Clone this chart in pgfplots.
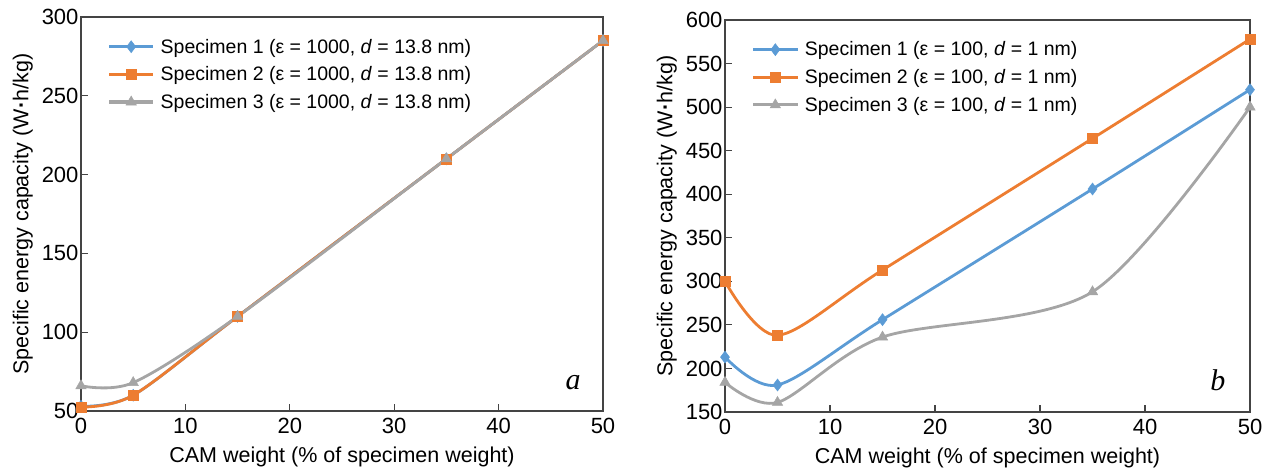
\documentclass[border=0pt]{standalone}
\usepackage{fontspec}
\setmainfont{Liberation Sans}
\newfontfamily\serifit{Liberation Serif}
\usepackage{pgfplots}
\pgfplotsset{compat=1.18}
\definecolor{cblue}{HTML}{5B9BD5}
\definecolor{corange}{HTML}{ED7D31}
\definecolor{cgray}{HTML}{A5A5A5}
\definecolor{frm}{HTML}{444444}
\pgfplotsset{myax/.style={
  scale only axis, clip=false,
  axis line style={frm, line width=1.2pt},
  tick style={frm, line width=1.2pt},
  tick align=inside, major tick length=7pt,
  xtick pos=lower, ytick pos=left,
  xmin=0, xmax=50, xtick={0,10,...,50},
  tick label style={font=\fontsize{22}{24}\selectfont},
  xticklabel style={yshift=-4pt},
  yticklabel style={xshift=1pt},
  label style={font=\fontsize{21.5}{24}\selectfont},
  xlabel style={yshift=-6pt},
  ylabel style={yshift=2pt},
  /pgf/number format/assume math mode=true,
  xlabel={CAM weight (\% of specimen weight)},
  ylabel={Specific energy capacity (W\kern0.5pt\textbf{·}\kern0.5pt h/kg)},
  legend style={draw=none, fill=none, font=\fontsize{19.5}{22}\selectfont, at={(0.045,0.955)}, anchor=north west, row sep=8pt, nodes={inner xsep=6pt}},
  legend cell align=left,
  legend image code/.code={\draw[##1, line width=3pt, mark repeat=2, mark phase=2] plot coordinates {(0pt,0pt) (22pt,0pt) (44pt,0pt)};},
}}
\pgfplotsset{
  s1/.style={cblue, line width=2.8pt, smooth, tension=0.5, mark=diamond*, mark size=6pt, mark options={solid, line width=0.5pt, fill=cblue}},
  s2/.style={corange, line width=2.8pt, smooth, tension=0.5, mark=square*, mark size=5pt, mark options={solid, line width=0.5pt, fill=corange}},
  s3/.style={cgray, line width=2.8pt, smooth, tension=0.5, mark=triangle*, mark size=6pt, mark options={solid, line width=0.5pt, fill=cgray}},
}
\begin{document}
\begin{tikzpicture}[x=1pt,y=1pt]
\path (0,0) rectangle (1269,473);
\begin{axis}[myax, at={(81pt,62pt)}, anchor=south west, width=522pt, height=394pt,
  ymin=50, ymax=300, ytick={50,100,...,300}]
\addplot[s1] coordinates {(0,53) (5,60) (15,110) (35,210) (50,285)};
\addlegendentry{Specimen 1 (ε = 1000, \textit{d} = 13.8 nm)}
\addplot[s2] coordinates {(0,52.5) (5,60) (15,110) (35,210) (50,285)};
\addlegendentry{Specimen 2 (ε = 1000, \textit{d} = 13.8 nm)}
\addplot[s3] coordinates {(0,66) (5,68) (15,110) (35,210) (50,285)};
\addlegendentry{Specimen 3 (ε = 1000, \textit{d} = 13.8 nm)}
\node[font=\serifit\itshape\fontsize{30}{32}\selectfont] at (rel axis cs:0.943,0.071) {a};
\end{axis}
\begin{axis}[myax, at={(725pt,61pt)}, anchor=south west, width=525pt, height=392pt,
  ymin=150, ymax=600, ytick={150,200,...,600}]
\addplot[s1] coordinates {(0,213) (5,181) (15,256) (35,406) (50,520)};
\addlegendentry{Specimen 1 (ε = 100, \textit{d} = 1 nm)}
\addplot[s2] coordinates {(0,300) (5,238) (15,313) (35,464) (50,578)};
\addlegendentry{Specimen 2 (ε = 100, \textit{d} = 1 nm)}
\addplot[s3] coordinates {(0,184) (5,161) (15,236) (35,288) (50,500)};
\addlegendentry{Specimen 3 (ε = 100, \textit{d} = 1 nm)}
\node[font=\serifit\itshape\fontsize{30}{32}\selectfont] at (rel axis cs:0.939,0.08) {b};
\end{axis}
\end{tikzpicture}
\end{document}
